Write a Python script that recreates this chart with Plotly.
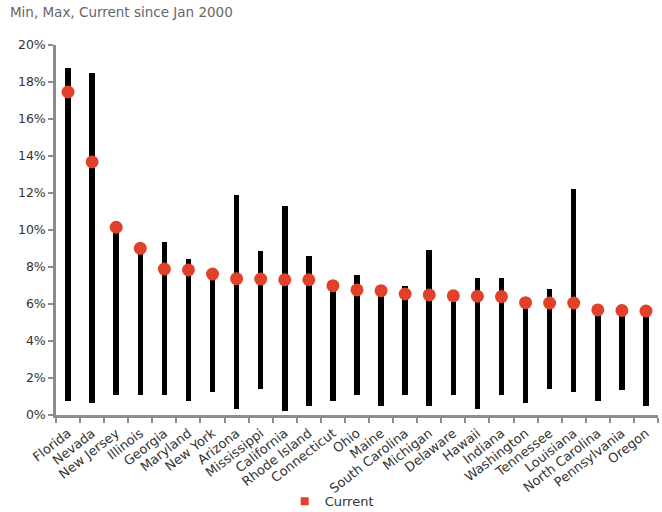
import plotly.graph_objects as go

# Unemployment rate by state: min, max and current level since Jan 2000 (%)
states = ["Florida", "Nevada", "New Jersey", "Illinois", "Georgia", "Maryland",
          "New York", "Arizona", "Mississippi", "California", "Rhode Island",
          "Connecticut", "Ohio", "Maine", "South Carolina", "Michigan", "Delaware",
          "Hawaii", "Indiana", "Washington", "Tennessee", "Louisiana",
          "North Carolina", "Pennsylvania", "Oregon"]
min_rate = [0.77, 0.66, 1.08, 1.08, 1.08, 0.77, 1.26, 0.32, 1.38, 0.23, 0.50,
            0.77, 1.08, 0.50, 1.08, 0.50, 1.08, 0.32, 1.08, 0.66, 1.41, 1.24,
            0.76, 1.35, 0.49]
max_rate = [18.74, 18.49, 10.15, 9.01, 9.35, 8.42, 7.62, 11.89, 8.86, 11.30, 8.59,
            6.99, 7.57, 6.72, 6.97, 8.92, 6.44, 7.39, 7.39, 6.07, 6.79, 12.20,
            5.68, 5.65, 5.62]
current = [17.46, 13.68, 10.15, 9.01, 7.89, 7.84, 7.62, 7.37, 7.35, 7.31, 7.31,
           6.99, 6.76, 6.72, 6.54, 6.49, 6.44, 6.42, 6.40, 6.07, 6.05, 6.05,
           5.68, 5.65, 5.62]

font_family = "DejaVu Sans, sans-serif"
axis_grey = "#8c8c8c"
dot_red = "#e1402b"

fig = go.Figure()

# Min-to-max range drawn as thin floating bars
fig.add_trace(go.Bar(
    x=states,
    y=[hi - lo for lo, hi in zip(min_rate, max_rate)],
    base=min_rate,
    width=0.23,
    marker=dict(color="black", line=dict(width=0)),
    showlegend=False,
    hoverinfo="skip",
))

# Current rate
fig.add_trace(go.Scatter(
    x=states,
    y=current,
    mode="markers",
    name="Current",
    showlegend=False,
    marker=dict(color=dot_red, size=13, symbol="circle", line=dict(width=0)),
))

# Legend key: small square swatch for the current-rate series
fig.add_trace(go.Scatter(
    x=[None],
    y=[None],
    mode="markers",
    name="Current",
    marker=dict(color=dot_red, size=8, symbol="square", line=dict(width=0)),
))

fig.update_layout(
    width=662,
    height=512,
    margin=dict(l=56, r=4, t=45, b=97, autoexpand=False),
    paper_bgcolor="white",
    plot_bgcolor="white",
    font=dict(family=font_family, size=12, color="#333333"),
    bargap=0,
    title=dict(
        text="Min, Max, Current since Jan 2000",
        x=0.015, xanchor="left", xref="container",
        y=0.985, yanchor="top", yref="container",
        font=dict(family=font_family, size=13.5, color="#666666"),
    ),
    showlegend=True,
    legend=dict(
        orientation="h",
        xref="container", yref="container",
        x=0.43, xanchor="left",
        y=0.021, yanchor="middle",
        font=dict(family=font_family, size=13, color="#333333"),
        itemwidth=30,
        bgcolor="rgba(0,0,0,0)",
    ),
    xaxis=dict(
        automargin=False,
        showgrid=False,
        showline=True, linecolor=axis_grey, linewidth=2.5,
        ticks="outside", tickson="boundaries", ticklen=5,
        tickcolor=axis_grey, tickwidth=1.5,
        tickangle=-38,
        ticklabelstandoff=3,
        tickfont=dict(size=13, color="#333333"),
        range=[-0.5, len(states) - 0.5],
    ),
    yaxis=dict(
        automargin=False,
        range=[0, 20],
        dtick=2,
        ticksuffix="%",
        showgrid=False,
        zeroline=False,
        showline=True, linecolor=axis_grey, linewidth=2.5,
        ticks="outside", ticklen=5, tickcolor=axis_grey, tickwidth=1.5,
        tickfont=dict(size=12.5, color="#333333"),
    ),
)

fig.write_html("out.html")
